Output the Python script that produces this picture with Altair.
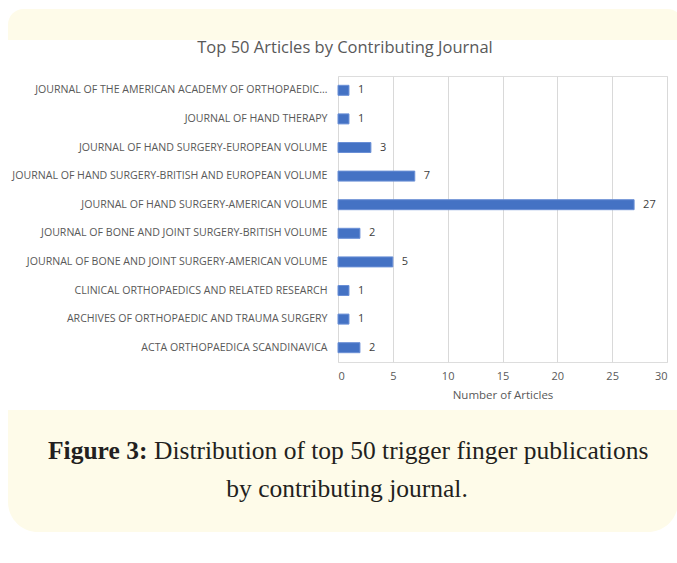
import altair as alt
import pandas as pd

journals = [
    "JOURNAL OF THE AMERICAN ACADEMY OF ORTHOPAEDIC…",
    "JOURNAL OF HAND THERAPY",
    "JOURNAL OF HAND SURGERY-EUROPEAN VOLUME",
    "JOURNAL OF HAND SURGERY-BRITISH AND EUROPEAN VOLUME",
    "JOURNAL OF HAND SURGERY-AMERICAN VOLUME",
    "JOURNAL OF BONE AND JOINT SURGERY-BRITISH VOLUME",
    "JOURNAL OF BONE AND JOINT SURGERY-AMERICAN VOLUME",
    "CLINICAL ORTHOPAEDICS AND RELATED RESEARCH",
    "ARCHIVES OF ORTHOPAEDIC AND TRAUMA SURGERY",
    "ACTA ORTHOPAEDICA SCANDINAVICA",
]
articles = [1, 1, 3, 7, 27, 2, 5, 1, 1, 2]
x_ticks = [0, 5, 10, 15, 20, 25, 30]

chart_title = "Top 50 Articles by Contributing Journal"
x_title = "Number of Articles"
caption_bold = "Figure 3:"
caption_line1 = "Distribution of top 50 trigger finger publications"
caption_line2 = "by contributing journal."

df = pd.DataFrame({"journal": journals, "articles": articles})
one = pd.DataFrame({"k": [0]})

SANS = "Open Sans, sans-serif"
SERIF = "Liberation Serif, serif"
CREAM = "#FEFBE9"

y_enc = alt.Y("journal:N", sort=journals, title=None,
              axis=alt.Axis(labelFont=SANS, labelFontSize=10.6, labelColor="#595959",
                            labelLimit=400, labelPadding=11, ticks=False, domain=False))
x_enc = alt.X("articles:Q", title=x_title,
              scale=alt.Scale(domain=[0, 30], nice=False),
              axis=alt.Axis(values=x_ticks, grid=True, gridColor="#D9D9D9", ticks=False,
                            domain=False, labelFont=SANS, labelFontSize=11,
                            labelColor="#595959", labelPadding=8,
                            titleFont=SANS, titleFontSize=11.5, titleColor="#595959",
                            titleFontWeight="normal", titlePadding=8))

top_box = alt.Chart(one).mark_rect(color=CREAM, cornerRadiusTopLeft=25,
                                   cornerRadiusTopRight=25).encode(
    x=alt.value(-330), x2=alt.value(345), y=alt.value(-67), y2=alt.value(-36))
bottom_box = alt.Chart(one).mark_rect(color=CREAM, cornerRadiusBottomLeft=30,
                                      cornerRadiusBottomRight=30).encode(
    x=alt.value(-330), x2=alt.value(340), y=alt.value(334), y2=alt.value(456))

bars = alt.Chart(df).mark_bar(color="#4472C4", stroke="#6A8FD6", strokeWidth=1,
                              size=10).encode(x=x_enc, y=y_enc)
labels = alt.Chart(df).mark_text(align="left", dx=9, font=SANS, fontSize=11,
                                 color="#404040").encode(
    x="articles:Q", y=alt.Y("journal:N", sort=journals), text="articles:Q")

title_t = alt.Chart(one).mark_text(text=chart_title, font=SANS, fontSize=16.5,
                                   color="#595959", align="center",
                                   baseline="middle").encode(
    x=alt.value(7), y=alt.value(-28))
cap_b = alt.Chart(one).mark_text(text=caption_bold, font=SERIF, fontSize=25.5,
                                 fontWeight="bold", color="#231F20", align="left",
                                 baseline="middle").encode(
    x=alt.value(-290), y=alt.value(375))
cap_1 = alt.Chart(one).mark_text(text=caption_line1, font=SERIF, fontSize=25.5,
                                 color="#231F20", align="left",
                                 baseline="middle").encode(
    x=alt.value(-184), y=alt.value(375))
cap_2 = alt.Chart(one).mark_text(text=caption_line2, font=SERIF, fontSize=25.5,
                                 color="#231F20", align="center",
                                 baseline="middle").encode(
    x=alt.value(9), y=alt.value(413))

chart = alt.layer(top_box, bottom_box, bars, labels, title_t, cap_b, cap_1, cap_2).properties(
    width=329, height=286,
    autosize=alt.AutoSizeParams(type="none"),
    padding={"left": 338, "top": 76, "right": 10, "bottom": 201},
).configure_view(stroke=None).configure(background="white")

chart.save("out.html", embed_options={"renderer": "svg", "actions": False})
